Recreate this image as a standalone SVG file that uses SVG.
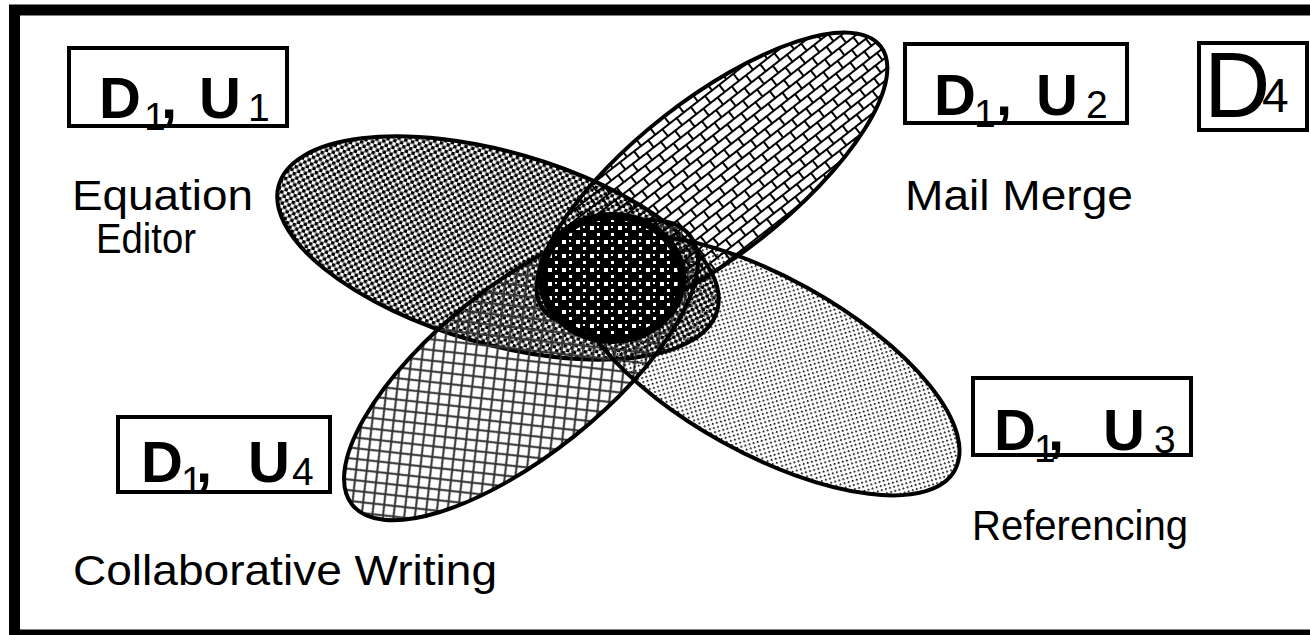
<svg xmlns="http://www.w3.org/2000/svg" width="1310" height="635" viewBox="0 0 1310 635">
<defs>
<pattern id="pDense" width="7" height="7" patternUnits="userSpaceOnUse">
<rect x="0" y="0" width="3.5" height="3.5" fill="#000"/>
<rect x="3.5" y="3.5" width="3.5" height="3.5" fill="#000"/>
</pattern>
<pattern id="pBrick" width="18" height="18" patternUnits="userSpaceOnUse">
<rect x="0" y="0" width="18" height="2" fill="#000"/>
<rect x="0" y="9" width="18" height="2" fill="#000"/>
<rect x="0" y="0" width="2" height="9" fill="#000"/>
<rect x="9" y="9" width="2" height="9" fill="#000"/>
</pattern>
<pattern id="pSparse" width="6" height="6" patternUnits="userSpaceOnUse">
<rect x="0" y="0" width="1.7" height="1.7" fill="#000"/>
<rect x="3" y="3" width="1.7" height="1.7" fill="#000"/>
</pattern>
<pattern id="pCross" width="15" height="15" patternUnits="userSpaceOnUse">
<path d="M0,0 L15,15 M15,0 L0,15" stroke="#333" stroke-width="2" fill="none"/>
</pattern>
<pattern id="pCore" width="14" height="14" patternUnits="userSpaceOnUse">
<rect width="14" height="14" fill="#000"/>
<rect x="2" y="2" width="4" height="4" fill="#fff"/>
<rect x="9" y="9" width="3" height="3" fill="#fff"/>
<rect x="9" y="2" width="2" height="2" fill="#fff"/>
</pattern>
<style>
.frame{fill:none;stroke:#000;stroke-width:11}
.box{fill:#fff;stroke:#000;stroke-width:4}
.ell{stroke:#000;stroke-width:4}
.big{font-family:"Liberation Sans",Arial,sans-serif;font-weight:bold;font-size:58px;fill:#000}
.sub{font-family:"Liberation Sans",Arial,sans-serif;font-size:39px;fill:#000}
.lab{font-family:"Liberation Sans",Arial,sans-serif;font-size:42px;fill:#000}
</style>
</defs>
<rect x="0" y="0" width="1310" height="635" fill="#fff"/>
<rect class="frame" x="14.5" y="10" width="1310" height="625"/>

<g id="ellipses">
<g id="e1"><ellipse class="ell" cx="498" cy="248" rx="228" ry="96" transform="rotate(16 498 248)" fill="url(#pDense)"/></g>
<g id="e4"><ellipse class="ell" cx="521" cy="370" rx="216" ry="85" transform="rotate(-38.6 521 370)" fill="url(#pCross)"/></g>
<g id="e3"><ellipse class="ell" cx="765" cy="365" rx="217" ry="88" transform="rotate(29 765 365)" fill="url(#pSparse)"/></g>
<g id="e2"><ellipse class="ell" cx="712" cy="178" rx="214" ry="78" transform="rotate(-38 712 178)" fill="url(#pBrick)"/></g>
<g id="core"><ellipse cx="612" cy="278" rx="70" ry="62" fill="url(#pCore)" stroke="#000" stroke-width="8"/></g>
</g>

<g id="n1">
<rect class="box" x="69" y="48" width="218" height="78"/>
<text class="big" x="99" y="118">D</text><text class="sub" x="144" y="130">1</text><text class="big" x="161" y="118">,</text>
<text class="big" x="199" y="118">U</text><text class="sub" x="248" y="121">1</text>
<text class="lab" x="72" y="210" textLength="181" lengthAdjust="spacingAndGlyphs">Equation</text>
<text class="lab" x="96" y="253" textLength="100" lengthAdjust="spacingAndGlyphs">Editor</text>
</g>
<g id="n2">
<rect class="box" x="905" y="44" width="222" height="79"/>
<text class="big" x="934" y="115">D</text><text class="sub" x="974" y="127">1</text><text class="big" x="996" y="115">,</text>
<text class="big" x="1036" y="115">U</text><text class="sub" x="1086" y="118">2</text>
<text class="lab" x="905" y="210" textLength="228" lengthAdjust="spacingAndGlyphs">Mail Merge</text>
</g>
<g id="n3">
<rect class="box" x="973" y="378" width="218" height="77"/>
<text class="big" x="994" y="450">D</text><text class="sub" x="1034" y="462">1</text><text class="big" x="1048" y="450">,</text>
<text class="big" x="1103" y="450">U</text><text class="sub" x="1154" y="453">3</text>
<text class="lab" x="972" y="540" textLength="216" lengthAdjust="spacingAndGlyphs">Referencing</text>
</g>
<g id="n4">
<rect class="box" x="118" y="417" width="212" height="75"/>
<text class="big" x="141" y="482">D</text><text class="sub" x="181" y="494">1</text><text class="big" x="196" y="482">,</text>
<text class="big" x="248" y="482">U</text><text class="sub" x="292" y="485">4</text>
<text class="lab" x="73" y="585" textLength="424" lengthAdjust="spacingAndGlyphs">Collaborative Writing</text>
</g>
<g id="n5">
<rect class="box" x="1199" y="43" width="108" height="87"/>
<text class="lab" x="1204" y="117" style="font-size:92px">D</text>
<text class="lab" x="1262" y="112" style="font-size:48px">4</text>
</g>
<g id="connectors"></g>
</svg>
